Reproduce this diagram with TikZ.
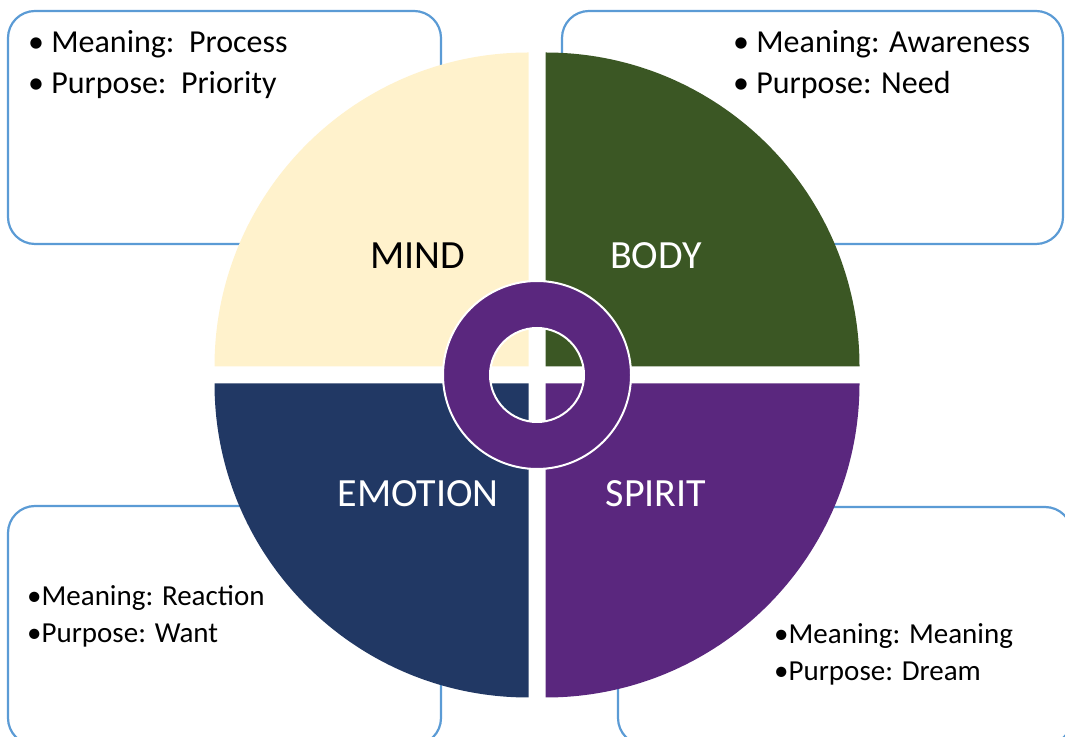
\documentclass[tikz,border=0pt]{standalone}
\usepackage{fontspec}
\setmainfont{Carlito}
\definecolor{mindcol}{HTML}{FFF2CC}
\definecolor{bodycol}{HTML}{3B5724}
\definecolor{emocol}{HTML}{213864}
\definecolor{spiritcol}{HTML}{5A277E}
\definecolor{boxline}{HTML}{5B9BD5}
\begin{document}
\begin{tikzpicture}[x=1pt,y=1pt,
  infobox/.style={draw=boxline,line width=2.2pt,fill=white,rounded corners=27pt},
  bigtext/.style={font=\fontsize{32}{38}\selectfont,anchor=base west,inner sep=0pt},
  smalltext/.style={font=\fontsize{29}{35}\selectfont,anchor=base west,inner sep=0pt},
  label/.style={font=\fontsize{40}{48}\selectfont,anchor=base,inner sep=0pt}]
\useasboundingbox (0,0) rectangle (1065,736);
\clip (0,0) rectangle (1065,736);

% corner boxes
\draw[infobox] (8,492) rectangle (441,725);
\draw[infobox] (562,492) rectangle (1063,725);
\draw[infobox] (8,-9) rectangle (441,230);
\draw[infobox] (618,-9) rectangle (1072,229);

% quadrants
\coordinate (c) at (537,361);
\fill[mindcol]   (528.5,369.5) -- ++(-314,0) arc[start angle=180,end angle=90,radius=314] -- cycle;
\fill[bodycol]   (545.5,369.5) -- ++(0,314) arc[start angle=90,end angle=0,radius=314] -- cycle;
\fill[emocol]    (528.5,352.5) -- ++(-314,0) arc[start angle=180,end angle=270,radius=314] -- cycle;
\fill[spiritcol] (545.5,352.5) -- ++(314,0) arc[start angle=0,end angle=-90,radius=314] -- cycle;

% centre ring
\draw[spiritcol,fill=spiritcol,even odd rule,draw=white,line width=2pt]
  (c) circle[radius=94] (c) circle[radius=47];

% quadrant labels
\node[label,text=black] (mind) at (418,467) {MIND};
\node[label,text=white] (body) at (656,467) {BODY};
\node[label,text=white] (emotion) at (418,229) {EMOTION};
\node[label,text=white] (spirit) at (656,229) {SPIRIT};

% box texts
\node[bigtext] (tl1) at (28,683) {• Meaning:\ \ Process};
\node[bigtext] (tl2) at (28,642) {• Purpose:\ \ Priority};
\node[bigtext] (tr1) at (733,683) {• Meaning: Awareness};
\node[bigtext] (tr2) at (733,642) {• Purpose: Need};
\node[smalltext] (bl1) at (27,130) {•Meaning: Reaction};
\node[smalltext] (bl2) at (27,93) {•Purpose: Want};
\node[smalltext] (br1) at (774,92) {•Meaning: Meaning};
\node[smalltext] (br2) at (774,55) {•Purpose: Dream};
\end{tikzpicture}
\end{document}
